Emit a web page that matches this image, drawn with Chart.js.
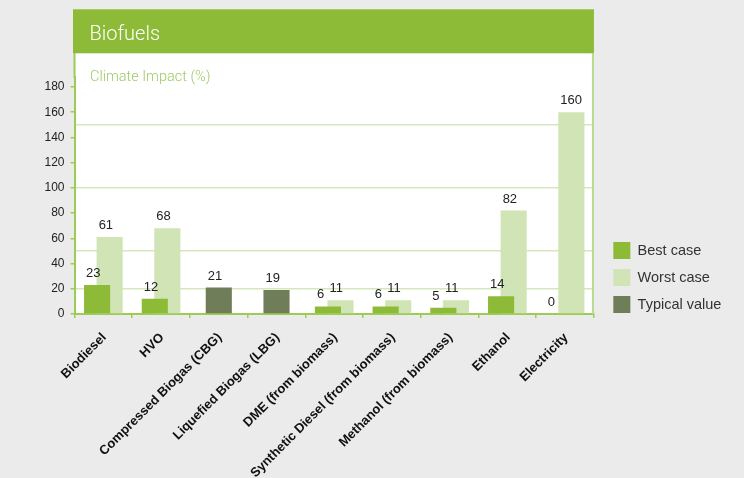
<!DOCTYPE html>
<html>
<head>
<meta charset="utf-8">
<title>Biofuels</title>
<script src="https://cdn.jsdelivr.net/npm/chart.js@4.4.1/dist/chart.umd.min.js"></script>
<style>
  html, body { margin: 0; padding: 0; background: #ebebeb; }
  #wrap { width: 744px; height: 478px; }
</style>
</head>
<body>
<div id="wrap"><canvas id="biofuelChart"></canvas></div>
<script>
const fuels = [
    'Biodiesel',
    'HVO',
    'Compressed Biogas (CBG)',
    'Liquefied Biogas (LBG)',
    'DME (from biomass)',
    'Synthetic Diesel (from biomass)',
    'Methanol (from biomass)',
    'Ethanol',
    'Electricity'
];
const bestCase = [23, 12, null, null, 6, 6, 5, 14, 0];
const worstCase = [61, 68, null, null, 11, 11, 11, 82, 160];
const typicalValue = [null, null, 21, 19, null, null, null, null, null];

// labelled y ticks; small marks every 10 up to 190
const yLabelTicks = [0, 20, 40, 60, 80, 100, 120, 140, 160, 180];
const yMinorTicks = [0, 10, 20, 30, 40, 50, 60, 70, 80, 90, 100, 110, 120, 130, 140, 150, 160, 170, 180, 190];
const gridValues = [20, 50, 100, 150];

const GREEN = '#8dbb38';
const LIGHT_GREEN = '#d0e4b5';
const DARK_GREEN = '#6f7d58';
const AXIS_GREEN = '#9ccc55';
const GRID_GREEN = '#d5e7bd';
const FONT = '"Liberation Sans", Arial, Helvetica, sans-serif';
const LIGHT_FONT = 'Roboto, "Liberation Sans", Arial, sans-serif';
const Y_MAX = 187.9;

Chart.defaults.font.family = FONT;

// grey page, white plot panel, green header bar and value labels
const panelPlugin = {
    id: 'panel',
    beforeDraw(chart) {
        const { ctx, chartArea: a } = chart;
        ctx.save();
        ctx.fillStyle = '#ebebeb';
        ctx.fillRect(0, 0, chart.width, chart.height);

        ctx.fillStyle = '#ffffff';
        ctx.fillRect(a.left, 53, a.right - a.left, a.bottom - 53);

        ctx.fillStyle = GREEN;
        ctx.fillRect(a.left - 1.5, 9.3, a.right - a.left + 1.5, 44);

        ctx.textBaseline = 'alphabetic';
        ctx.textAlign = 'left';
        ctx.fillStyle = '#ffffff';
        ctx.font = '300 20px ' + LIGHT_FONT;
        ctx.fillText('Biofuels', a.left + 15, 40);

        ctx.fillStyle = '#9fcb66';
        ctx.font = '300 14.5px ' + LIGHT_FONT;
        ctx.fillText('Climate Impact (%)', a.left + 15.5, 80.5);

        // left edge between header and the top of the y axis
        ctx.strokeStyle = AXIS_GREEN;
        ctx.lineWidth = 2;
        ctx.beginPath();
        ctx.moveTo(a.left, 53);
        ctx.lineTo(a.left, a.top + 1);
        ctx.stroke();
        ctx.restore();
    },
    afterDatasetsDraw(chart) {
        const { ctx, chartArea: a } = chart;
        ctx.save();
        ctx.strokeStyle = '#b8da8e';
        ctx.lineWidth = 2;
        ctx.beginPath();
        ctx.moveTo(a.right - 1, 53);
        ctx.lineTo(a.right - 1, a.bottom);
        ctx.stroke();

        ctx.fillStyle = '#222222';
        ctx.font = '13px ' + FONT;
        ctx.textAlign = 'left';
        ctx.textBaseline = 'alphabetic';
        chart.data.datasets.forEach((ds, i) => {
            const meta = chart.getDatasetMeta(i);
            meta.data.forEach((bar, j) => {
                const v = ds.data[j];
                if (v === null) return;
                ctx.fillText(String(v), bar.x - 11, bar.y - 8);
            });
        });
        ctx.restore();
    }
};

function initChart() {
    const ctx = document.getElementById('biofuelChart');
    if (!ctx) return;

    new Chart(ctx, {
        type: 'bar',
        data: {
            labels: fuels,
            datasets: [
                {
                    label: 'Best case',
                    data: bestCase,
                    stack: 'best',
                    backgroundColor: GREEN,
                    borderWidth: 0,
                    barPercentage: 2.08
                },
                {
                    label: 'Worst case',
                    data: worstCase,
                    stack: 'worst',
                    backgroundColor: LIGHT_GREEN,
                    borderWidth: 0,
                    barPercentage: 2.08
                },
                {
                    label: 'Typical value',
                    data: typicalValue,
                    stack: 'typical',
                    backgroundColor: DARK_GREEN,
                    borderWidth: 0,
                    barPercentage: 1.04
                }
            ]
        },
        options: {
            responsive: true,
            maintainAspectRatio: false,
            animation: false,
            events: [],
            datasets: {
                bar: {
                    categoryPercentage: 0.435,
                    skipNull: true
                }
            },
            layout: {
                padding: { left: 0, top: 77, right: 20, bottom: 0 }
            },
            scales: {
                x: {
                    afterFit: function(scale) {
                        scale.height = 164;
                    },
                    grid: {
                        offset: true,
                        drawOnChartArea: false,
                        tickLength: 4,
                        color: AXIS_GREEN,
                        lineWidth: 1.5
                    },
                    border: {
                        color: AXIS_GREEN,
                        width: 2
                    },
                    ticks: {
                        autoSkip: false,
                        minRotation: 45,
                        maxRotation: 45,
                        padding: 12,
                        labelOffset: 1,
                        color: '#111111',
                        font: { size: 13, weight: 'bold' }
                    }
                },
                y: {
                    min: 0,
                    max: Y_MAX,
                    stacked: false,
                    afterFit: function(scale) {
                        scale.width = 74.5;
                    },
                    afterBuildTicks: function(scale) {
                        scale.ticks = yMinorTicks.map(v => ({ value: v }));
                    },
                    grid: {
                        drawOnChartArea: false,
                        tickLength: 4,
                        color: AXIS_GREEN,
                        lineWidth: 1.5
                    },
                    border: {
                        color: AXIS_GREEN,
                        width: 2
                    },
                    ticks: {
                        padding: 6,
                        color: '#222222',
                        font: { size: 12 },
                        callback: function(value) {
                            return yLabelTicks.includes(value) ? String(value) : '';
                        }
                    }
                },
                grid: {
                    type: 'linear',
                    position: 'right',
                    min: 0,
                    max: Y_MAX,
                    afterFit: function(scale) {
                        scale.width = 9.4;
                    },
                    afterBuildTicks: function(scale) {
                        scale.ticks = gridValues.map(v => ({ value: v }));
                    },
                    grid: {
                        drawTicks: false,
                        color: GRID_GREEN,
                        lineWidth: 1.5
                    },
                    border: { display: false },
                    ticks: { display: false }
                }
            },
            plugins: {
                legend: {
                    display: true,
                    position: 'right',
                    align: 'center',
                    labels: {
                        boxWidth: 17,
                        boxHeight: 17,
                        padding: 10,
                        color: '#333333',
                        font: { size: 14.5 }
                    }
                },
                tooltip: { enabled: false }
            }
        },
        plugins: [panelPlugin]
    });
}

document.addEventListener('DOMContentLoaded', initChart);
</script>
</body>
</html>
